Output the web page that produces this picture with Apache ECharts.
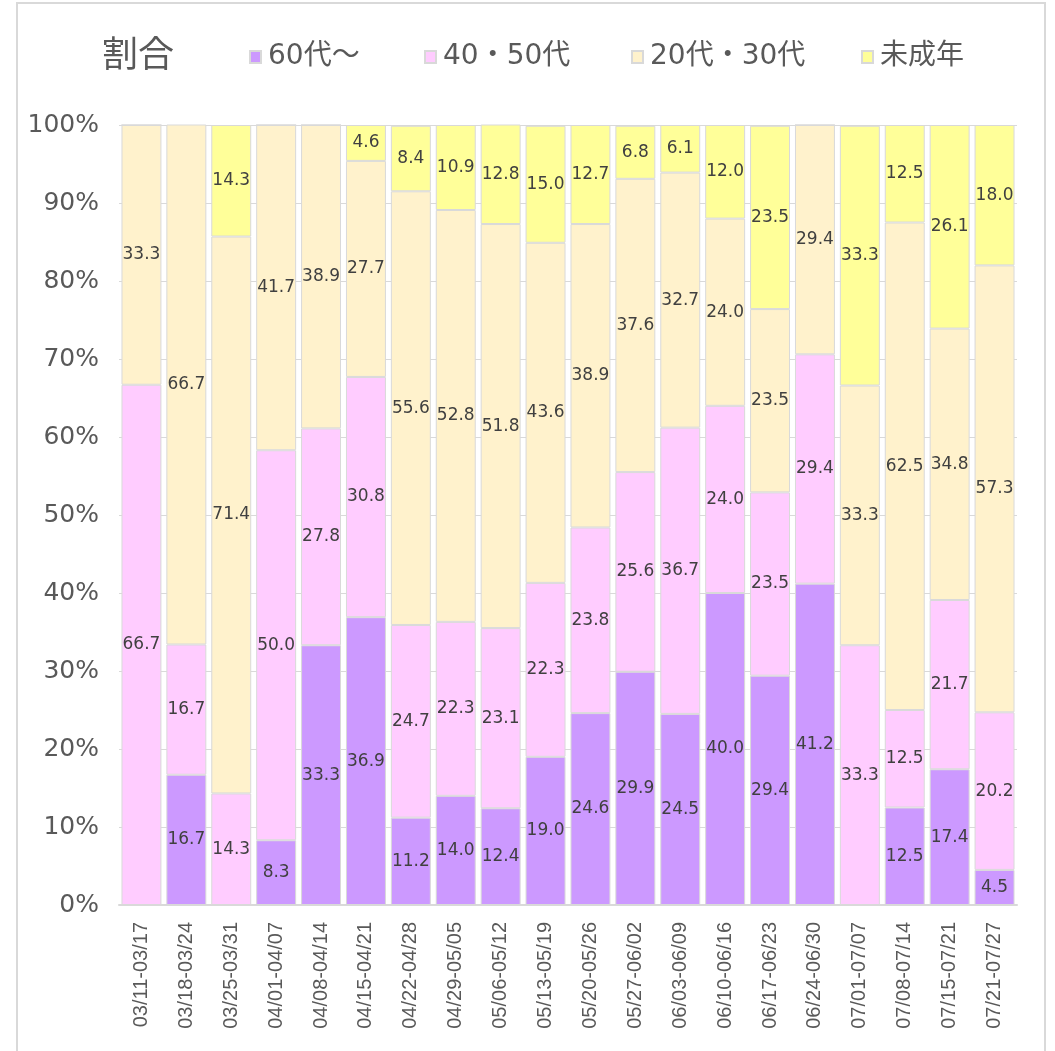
<!DOCTYPE html>
<html>
<head>
<meta charset="utf-8">
<script src="https://cdn.jsdelivr.net/npm/echarts@6/dist/echarts.min.js"></script>
<style>
html,body{margin:0;padding:0;background:#fff;}
#chart{width:1055px;height:1051px;}
</style>
</head>
<body>
<div id="chart"></div>
<script>
const categories = ["03/11-03/17","03/18-03/24","03/25-03/31","04/01-04/07","04/08-04/14","04/15-04/21","04/22-04/28","04/29-05/05","05/06-05/12","05/13-05/19","05/20-05/26","05/27-06/02","06/03-06/09","06/10-06/16","06/17-06/23","06/24-06/30","07/01-07/07","07/08-07/14","07/15-07/21","07/21-07/27"];
const seriesNames = ["60代～","40・50代","20代・30代","未成年"];
const age60plus = [0,16.7,0,8.3,33.3,36.9,11.2,14.0,12.4,19.0,24.6,29.9,24.5,40.0,29.4,41.2,0,12.5,17.4,4.5];
const age40_50 = [66.7,16.7,14.3,50.0,27.8,30.8,24.7,22.3,23.1,22.3,23.8,25.6,36.7,24.0,23.5,29.4,33.3,12.5,21.7,20.2];
const age20_30 = [33.3,66.7,71.4,41.7,38.9,27.7,55.6,52.8,51.8,43.6,38.9,37.6,32.7,24.0,23.5,29.4,33.3,62.5,34.8,57.3];
const minors = [0,0,14.3,0,0,4.6,8.4,10.9,12.8,15.0,12.7,6.8,6.1,12.0,23.5,0,33.3,12.5,26.1,18.0];
const yTicks = [0,10,20,30,40,50,60,70,80,90,100];
const colors = ["#cc99ff","#ffccff","#fff2cc","#ffff99"];

const values = [age60plus, age40_50, age20_30, minors];
const legendLefts = [244, 419, 626, 856];
const labelColor = "#595959";

const chart = echarts.init(document.getElementById('chart'));
chart.setOption({
  animation: false,
  backgroundColor: '#ffffff',
  title: {
    text: '割合', left: 97, top: 30,
    textStyle: {fontSize: 36, fontWeight: 'normal', color: labelColor, fontFamily: '"Noto Sans CJK JP"'}
  },
  legend: seriesNames.map((n, i) => ({
    data: [n], left: legendLefts[i], top: 38, itemWidth: 11, itemHeight: 12, itemGap: 0,
    icon: 'rect',
    textStyle: {fontSize: 28, color: labelColor, fontFamily: '"DejaVu Sans","Noto Sans CJK JP"', padding: [0,0,0,2]}
  })),
  grid: {left: 119, right: 38, top: 125, bottom: 146, containLabel: false},
  xAxis: {
    type: 'category', data: categories,
    axisLine: {lineStyle: {color: '#d9d9d9', width: 2}},
    axisTick: {show: false},
    axisLabel: {interval: 0, rotate: 90, fontSize: 20, color: labelColor, margin: 17,
      fontFamily: '"Liberation Sans",sans-serif'}
  },
  yAxis: {
    type: 'value', min: 0, max: 100, interval: 10,
    axisLine: {show: false}, axisTick: {show: false},
    splitLine: {lineStyle: {color: '#d9d9d9', width: 1}},
    axisLabel: {formatter: v => yTicks.includes(v) ? v + '%' : '', fontSize: 25, color: labelColor, margin: 20, fontFamily: '"DejaVu Sans"'}
  },
  series: seriesNames.map((n, i) => ({
    name: n, type: 'bar', stack: 'total', data: values[i],
    barCategoryGap: '11%',
    itemStyle: {color: colors[i], borderColor: '#d9d9d9', borderWidth: 1},
    label: {show: true, position: 'inside', fontSize: 17, color: '#404040', fontFamily: '"DejaVu Sans"',
      formatter: p => p.value ? Number(p.value).toFixed(1) : ''}
  })),
  graphic: [{
    type: 'rect', silent: true, z: -1,
    shape: {x: 17, y: 3, width: 1028, height: 1100},
    style: {fill: 'none', stroke: '#d9d9d9', lineWidth: 2}
  }]
});
</script>
</body>
</html>
